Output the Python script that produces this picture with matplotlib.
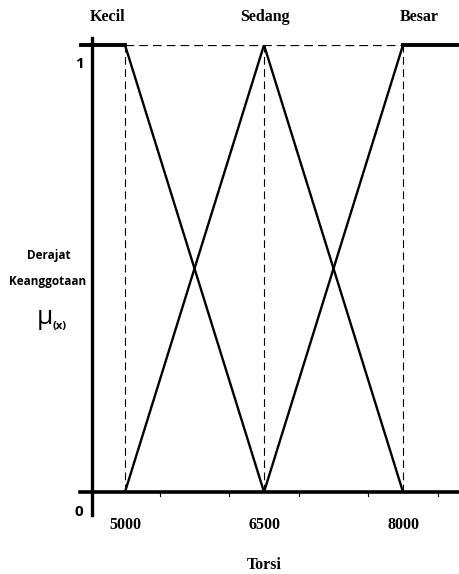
import matplotlib
matplotlib.use('Agg')
import matplotlib.pyplot as plt

# Data
labels = ['Kecil', 'Sedang', 'Besar']
kecil_x = [4644, 5000, 6500]
kecil_y = [1, 1, 0]
sedang_x = [5000, 6500, 8000]
sedang_y = [0, 1, 0]
besar_x = [6500, 8000, 8604]
besar_y = [0, 1, 1]
xticks = [5000, 6500, 8000]
minor_ticks = [5375, 6125, 6875, 7625, 8375]

W, H = 459, 574
fig = plt.figure(figsize=(W / 100, H / 100), dpi=100)
fig.patch.set_facecolor('white')

# axes: x0=92px, y0 at 492px, y1 at 45px
ax = fig.add_axes([92 / W, (H - 492) / H, (W - 92) / W, (492 - 45) / H])
ax.set_xlim(4644, 8604)
ax.set_ylim(0, 1)
ax.axis('off')

serif = 'Liberation Serif'
sans = 'Open Sans'

# dashed guides
ax.plot([5000, 8000], [1, 1], ls=(0, (7, 4)), color='black', lw=0.9)
for xv in xticks:
    ax.plot([xv, xv], [0, 1], ls=(0, (7, 4)), color='black', lw=0.8)

# membership functions
ax.plot(kecil_x[1:], kecil_y[1:], color='black', lw=1.7)
ax.plot(kecil_x[:2], kecil_y[:2], color='black', lw=2.8, clip_on=False)
ax.plot(sedang_x, sedang_y, color='black', lw=1.7)
ax.plot(besar_x[:2], besar_y[:2], color='black', lw=1.7)
ax.plot(besar_x[1:], besar_y[1:], color='black', lw=2.8, clip_on=False)

# axes lines
ax.plot([4514, 8604], [0, 0], color='black', lw=2.6, clip_on=False)
ax.plot([4644, 4644], [-0.051, 1.016], color='black', lw=2.4, clip_on=False)
ax.plot([4530, 4644], [1, 1], color='black', lw=2.8, clip_on=False)
for xv in minor_ticks:
    ax.plot([xv, xv], [0, -0.008], color='black', lw=0.8, clip_on=False)

# set labels at top
for xv, lab in zip([4810, 6510, 8180], labels):
    ax.text(xv, 1.062, lab, ha='center', va='center', fontsize=11.5,
            fontweight='bold', family=serif)

for xv in xticks:
    ax.text(xv, -0.074, str(xv), ha='center', va='center', fontsize=11.5,
            fontweight='bold', family=serif)
ax.text(6500, -0.163, 'Torsi', ha='center', va='center', fontsize=11.5,
        fontweight='bold', family=serif)

# y side labels (figure pixel coords)
def ftext(x, y, s, **kw):
    fig.text(x / W, 1 - y / H, s, **kw)

ftext(80, 64, '1', ha='center', va='center', fontsize=11, fontweight='bold', family=sans)
ftext(79, 512, '0', ha='center', va='center', fontsize=11, fontweight='bold', family=sans)
ftext(49, 256, 'Derajat', ha='center', va='center', fontsize=8.5, fontweight='bold', family=sans)
ftext(48, 281, 'Keanggotaan', ha='center', va='center', fontsize=8.5, fontweight='bold', family=sans)
ftext(45, 318, 'μ', ha='center', va='center', fontsize=19, family=sans)
ftext(60, 326, '(x)', ha='center', va='center', fontsize=8, fontweight='bold', family=sans)

fig.savefig('out.png', dpi=100)
